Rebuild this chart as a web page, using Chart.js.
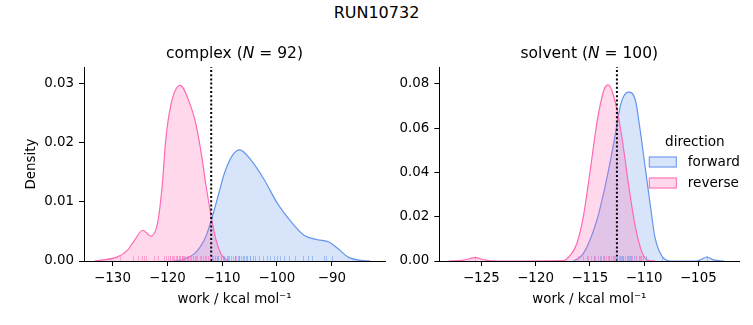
<!DOCTYPE html>
<html><head><meta charset="utf-8">
<script src="https://cdn.jsdelivr.net/npm/chart.js@4/dist/chart.umd.min.js"></script>
<style>
body{margin:0;background:#fff;}
#wrap{position:relative;width:753px;height:325px;overflow:hidden;background:#fff;}
#sup{position:absolute;left:0;top:3px;width:753px;text-align:center;font:16px "DejaVu Sans";color:#000;line-height:19px;}
#c1{position:absolute;left:0;top:0;width:390px;height:325px;}
#c2{position:absolute;left:390px;top:0;width:363px;height:325px;}
</style></head><body>
<div id="wrap"><div id="sup">RUN10732</div>
<canvas id="c1" width="390" height="325"></canvas>
<canvas id="c2" width="363" height="325"></canvas></div>
<script>
// ---------- data ----------
const suptitle = 'RUN10732';
const directions = ['forward', 'reverse'];
const panelNames = ['complex', 'solvent'];
const panelN = [92, 100];
const refLines = [-112.0, -112.5];

const complexXTicks = [-130, -120, -110, -100, -90];
const complexYTicks = [0, 0.01, 0.02, 0.03];
const solventXTicks = [-125, -120, -115, -110, -105];
const solventYTicks = [0, 0.02, 0.04, 0.06, 0.08];

// KDE curves
const complexFwdX = [-118.7, -117.0, -115.1, -114.0, -113.0, -112.0, -110.8, -109.6, -108.1, -106.8, -104.7, -102.3, -99.9, -97.4, -95.0, -92.6, -90.5, -88.9, -87.1, -84.7, -83.0];
const complexFwdY = [0, 0.0003, 0.0012, 0.0024, 0.0041, 0.0068, 0.0108, 0.0148, 0.0179, 0.0188, 0.0170, 0.0137, 0.0097, 0.0066, 0.0043, 0.0036, 0.0032, 0.0021, 0.0007, 0.0001, 0];
const complexRevX = [-133.3, -129.1, -127.3, -126.0, -124.5, -123.0, -121.8, -120.9, -120.3, -119.3, -117.7, -115.7, -114.8, -113.9, -113.0, -112.0, -111.1, -110.2, -109.0];
const complexRevY = [0, 0.0007, 0.0018, 0.0035, 0.0052, 0.0042, 0.0063, 0.0131, 0.0204, 0.0266, 0.0297, 0.0261, 0.0232, 0.0187, 0.0131, 0.0075, 0.0035, 0.0012, 0];
const solventFwdX = [-116.5, -115.6, -114.35, -113.4, -112.8, -112.2, -111.9, -111.45, -110.8, -110.4, -109.9, -109.4, -109.0, -108.4, -107.6, -105.2, -104.8, -104.2, -103.6, -102.6];
const solventFwdY = [0, 0.0033, 0.0184, 0.038, 0.0531, 0.0697, 0.0742, 0.0763, 0.0727, 0.0606, 0.0425, 0.0244, 0.0109, 0.0026, 0, 0, 0.0005, 0.0018, 0.0005, 0];
const solventRevX = [-128.0, -126.6, -125.6, -124.6, -123.5, -117.4, -116.8, -116.2, -115.6, -115.0, -114.35, -113.7, -113.3, -112.7, -112.05, -111.4, -110.8, -110.2, -109.6, -109.0];
const solventRevY = [0, 0.0004, 0.0015, 0.0004, 0, 0.0002, 0.0026, 0.0078, 0.0199, 0.0395, 0.0621, 0.0772, 0.0795, 0.0727, 0.0561, 0.0335, 0.0154, 0.0041, 0.0003, 0];

// rug (individual work values)
const complexRevRug = [-128.6, -126.2, -125.4, -124.7, -124.2, -123.9, -122.4, -121.7, -120.6, -120.2, -119.9, -119.6, -119.5, -119.2, -118.9, -118.8, -118.5, -118.3, -118.2, -117.9, -117.8, -117.6, -117.4, -117.3, -117.1, -116.9, -116.8, -116.5, -116.3, -116.2, -115.9, -115.7, -115.4, -115.3, -115.0, -114.7, -114.5, -114.1, -113.9, -113.5, -113.2, -112.9, -112.5, -112.3, -111.6, -107.4, -107.0];
const complexFwdRug = [-111.8, -111.3, -111.0, -110.8, -110.3, -109.9, -109.7, -109.2, -109.0, -108.8, -108.3, -108.1, -107.7, -107.6, -107.1, -106.9, -106.5, -106.2, -106.1, -105.6, -105.4, -105.0, -104.9, -104.4, -104.1, -103.3, -102.6, -101.8, -101.2, -100.6, -100.0, -99.4, -98.8, -97.9, -96.7, -95.3, -94.3, -93.7, -91.5, -91.0, -90.0];
const solventRevRug = [-125.6, -116.1, -115.6, -115.2, -114.9, -114.6, -114.5, -114.2, -114.0, -113.8, -113.7, -113.5, -113.3, -113.2, -113.0, -112.8, -112.7, -112.5, -112.3, -112.1, -111.9, -111.8, -111.4, -111.1, -110.7, -110.4];
const solventFwdRug = [-115.3, -114.6, -114.1, -113.7, -113.2, -112.9, -112.6, -112.5, -112.2, -112.0, -111.9, -111.6, -111.5, -111.3, -111.2, -110.9, -110.7, -110.5, -110.3, -110.1, -109.8, -108.3, -104.2];

// ---------- styles ----------
const FONT = 'DejaVu Sans';
const colFwd = 'rgb(100,149,237)';
const colRev = 'rgb(255,105,180)';
const fillFwd = 'rgba(100,149,237,0.26)';
const fillRev = 'rgba(255,105,180,0.26)';
const rugFwd = 'rgba(100,149,237,0.5)';
const rugRev = 'rgba(255,105,180,0.5)';

document.getElementById('sup').textContent = suptitle;

function pts(xs, ys) { return xs.map((x, i) => ({x: x, y: ys[i]})); }
function minusFmt(v) { return (v < 0 ? '\u2212' : '') + Math.abs(v); }

function titlePlugin(name, n) {
  return {
    id: 'axTitle',
    afterDraw(chart) {
      const ctx = chart.ctx, a = chart.chartArea;
      const parts = [[name + ' (', 'normal'], ['N', 'italic'], [' = ' + n + ')', 'normal']];
      ctx.save();
      ctx.fillStyle = '#000';
      ctx.textBaseline = 'middle';
      let total = 0;
      const w = parts.map(p => { ctx.font = p[1] + ' 15.5px "' + FONT + '"'; const m = ctx.measureText(p[0]).width; total += m; return m; });
      let x = (a.left + a.right) / 2 - total / 2;
      parts.forEach((p, i) => { ctx.font = p[1] + ' 15.5px "' + FONT + '"'; ctx.textAlign = 'left'; ctx.fillText(p[0], x, 54); x += w[i]; });
      ctx.restore();
    }
  };
}

function rugPlugin(fwd, rev) {
  return {
    id: 'rug',
    afterDatasetsDraw(chart) {
      const ctx = chart.ctx, xs = chart.scales.x, a = chart.chartArea;
      ctx.save();
      ctx.lineWidth = 1;
      [[fwd, rugFwd], [rev, rugRev]].forEach(([vals, col]) => {
        ctx.strokeStyle = col;
        vals.forEach(v => {
          const px = Math.round(xs.getPixelForValue(v)) + 0.5;
          ctx.beginPath(); ctx.moveTo(px, a.bottom); ctx.lineTo(px, a.bottom - 5); ctx.stroke();
        });
      });
      ctx.restore();
    }
  };
}

const legendPlugin = {
  id: 'customLegend',
  afterDraw(chart) {
    const ctx = chart.ctx, a = chart.chartArea;
    const bx = a.right - 90.5;
    ctx.save();
    ctx.font = '13.6px "' + FONT + '"';
    ctx.fillStyle = '#000';
    ctx.textBaseline = 'middle';
    ctx.textAlign = 'center';
    ctx.fillText('direction', bx + 46, 142);
    const items = [[directions[0], fillFwd, colFwd, 162], [directions[1], fillRev, colRev, 183]];
    items.forEach(([lab, f, c, y]) => {
      ctx.fillStyle = f; ctx.fillRect(bx, y - 5.5, 28, 11);
      ctx.strokeStyle = c; ctx.lineWidth = 1; ctx.strokeRect(bx + 0.5, y - 5, 27, 10);
      ctx.fillStyle = '#000'; ctx.textAlign = 'left';
      ctx.fillText(lab, bx + 39, y);
    });
    ctx.restore();
  }
};

function makeChart(id, cfg) {
  const tickFont = {family: FONT, size: 13.4};
  const xTicks = cfg.xTicks, yTicks = cfg.yTicks;
  return new Chart(document.getElementById(id), {
    type: 'line',
    data: {
      datasets: [
        {label: 'ref', data: [{x: cfg.ref, y: 0}, {x: cfg.ref, y: cfg.ymax}], borderColor: '#000', borderWidth: 2, borderDash: [2, 2.2], pointRadius: 0, fill: false, order: 0},
        {label: directions[1], data: pts(cfg.revX, cfg.revY), borderColor: colRev, backgroundColor: fillRev, borderWidth: 1.2, pointRadius: 0, fill: 'origin', cubicInterpolationMode: 'monotone', order: 1},
        {label: directions[0], data: pts(cfg.fwdX, cfg.fwdY), borderColor: colFwd, backgroundColor: fillFwd, borderWidth: 1.2, pointRadius: 0, fill: 'origin', cubicInterpolationMode: 'monotone', order: 2}
      ]
    },
    options: {
      responsive: false, animation: false, devicePixelRatio: 1,
      layout: {padding: {top: 67, right: cfg.padRight, bottom: 0, left: 0}},
      plugins: {legend: {display: false}, tooltip: {enabled: false}, title: {display: false}},
      scales: {
        x: {
          type: 'linear', min: cfg.xmin, max: cfg.xmax,
          afterBuildTicks: s => { s.ticks = xTicks.map(v => ({value: v})); },
          afterFit: s => { s.height = 64; },
          ticks: {font: tickFont, color: '#000', padding: 4, maxRotation: 0, autoSkip: false, callback: v => minusFmt(v)},
          grid: {display: true, drawOnChartArea: false, drawTicks: true, tickLength: 5, color: '#000', lineWidth: 1},
          border: {display: true, color: '#000', width: 1},
          title: {display: true, text: 'work / kcal mol\u207B\u00B9', font: {family: FONT, size: 13.4}, color: '#000', padding: {top: 0, bottom: 17}}
        },
        y: {
          type: 'linear', min: 0, max: cfg.ymax,
          afterBuildTicks: s => { s.ticks = yTicks.map(v => ({value: v})); },
          afterFit: s => { s.width = cfg.yWidth; },
          ticks: {font: tickFont, color: '#000', padding: 5, autoSkip: false, callback: v => v.toFixed(2)},
          grid: {display: true, drawOnChartArea: false, drawTicks: true, tickLength: 5, color: '#000', lineWidth: 1},
          border: {display: true, color: '#000', width: 1},
          title: {display: cfg.ytitle, text: 'Density', font: {family: FONT, size: 13.4}, color: '#000', padding: {top: 23, bottom: 0}}
        }
      }
    },
    plugins: cfg.plugins
  });
}

makeChart('c1', {
  xTicks: complexXTicks, yTicks: complexYTicks, xmin: -135.2, xmax: -80.3, ymax: 0.0328,
  ref: refLines[0], fwdX: complexFwdX, fwdY: complexFwdY, revX: complexRevX, revY: complexRevY,
  padRight: 5, yWidth: 84, ytitle: true,
  plugins: [titlePlugin(panelNames[0], panelN[0]), rugPlugin(complexFwdRug, complexRevRug)]
});
makeChart('c2', {
  xTicks: solventXTicks, yTicks: solventYTicks, xmin: -128.87, xmax: -101.22, ymax: 0.0876,
  ref: refLines[1], fwdX: solventFwdX, fwdY: solventFwdY, revX: solventRevX, revY: solventRevY,
  padRight: 13.7, yWidth: 49.3, ytitle: false,
  plugins: [titlePlugin(panelNames[1], panelN[1]), rugPlugin(solventFwdRug, solventRevRug), legendPlugin]
});
</script>
</body></html>
